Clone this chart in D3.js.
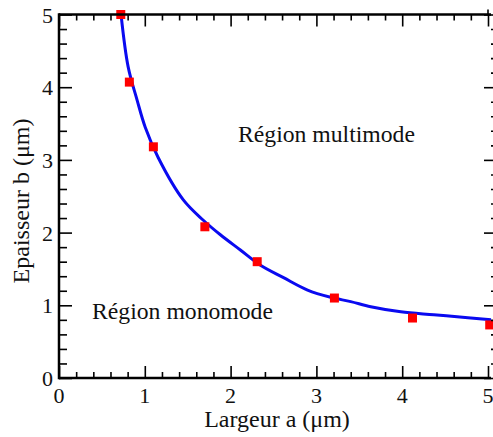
<!DOCTYPE html>
<html><head><meta charset="utf-8">
<script src="https://cdn.jsdelivr.net/npm/d3@7"></script>
<style>body{margin:0;background:#fff}svg{display:block}text{font-family:"Liberation Serif","Times New Roman",serif;fill:#111}</style>
</head><body>
<svg id="c" width="493" height="437"></svg>
<script>
const pointsX = [0.72, 0.82, 1.1, 1.7, 2.31, 3.21, 4.12, 5.02];
const pointsY = [5.0, 4.07, 3.18, 2.08, 1.6, 1.1, 0.825, 0.73];
const curveX = [0.724, 0.806, 0.911, 1.005, 1.157, 1.449, 1.682, 1.881, 2.114, 2.348, 2.617, 2.897, 3.166, 3.40, 3.633, 3.984, 4.369, 4.766, 5.035];
const curveY = [4.99, 4.28, 3.82, 3.45, 3.03, 2.45, 2.17, 1.97, 1.76, 1.55, 1.38, 1.21, 1.11, 1.05, 0.98, 0.91, 0.87, 0.83, 0.80];
const xTicks = [0, 1, 2, 3, 4, 5];
const yTicks = [0, 1, 2, 3, 4, 5];
const xLabel = "Largeur a (μm)";
const yLabel = "Epaisseur b (μm)";
const regionTexts = [{t:"Région multimode", x:2.086, y:3.25}, {t:"Région monomode", x:0.385, y:0.81}];

(function(){
const svg = d3.select("#c");
const L = 59, R = 488, T = 14.5, B = 378;
const x = d3.scaleLinear().domain([0,5]).range([L,R]);
const y = d3.scaleLinear().domain([0,5]).range([B,T]);
const minorX = d3.range(0, 5.001, 0.2).filter(v => Math.abs(v - Math.round(v)) > 1e-6);
const minorY = minorX;

const line = d3.line().x((d,i)=>x(curveX[i])).y((d,i)=>y(curveY[i])).curve(d3.curveCatmullRom);
svg.append("defs").append("clipPath").attr("id","clip").append("rect").attr("x",0).attr("y",T).attr("width",493).attr("height",B-T);
svg.append("path").datum(curveX).attr("d", line).attr("fill","none").attr("stroke","#0a0af0").attr("stroke-width",3).attr("clip-path","url(#clip)");

svg.selectAll("rect.pt").data(pointsX).join("rect").attr("class","pt")
  .attr("x",(d,i)=>x(d)-4.5).attr("y",(d,i)=>y(pointsY[i])-4.5).attr("width",9).attr("height",9).attr("fill","#f00");

const axBottom = svg.append("g").attr("transform",`translate(0,${B})`)
  .call(d3.axisBottom(x).tickValues(xTicks).tickSize(-12).tickFormat(""));
const axBottomMinor = svg.append("g").attr("transform",`translate(0,${B})`)
  .call(d3.axisBottom(x).tickValues(minorX).tickSize(-6).tickFormat(""));
const axTop = svg.append("g").attr("transform",`translate(0,${T})`)
  .call(d3.axisTop(x).tickValues(xTicks).tickSize(-12).tickFormat(""));
const axTopMinor = svg.append("g").attr("transform",`translate(0,${T})`)
  .call(d3.axisTop(x).tickValues(minorX).tickSize(-6).tickFormat(""));
const axLeft = svg.append("g").attr("transform",`translate(${L},0)`)
  .call(d3.axisLeft(y).tickValues(yTicks).tickSize(-13).tickFormat(""));
const axLeftMinor = svg.append("g").attr("transform",`translate(${L},0)`)
  .call(d3.axisLeft(y).tickValues(minorY).tickSize(-8).tickFormat(""));
const axRight = svg.append("g").attr("transform",`translate(${R+5},0)`)
  .call(d3.axisRight(y).tickValues(yTicks).tickSize(-9).tickFormat(""));
const axRightMinor = svg.append("g").attr("transform",`translate(${R+5},0)`)
  .call(d3.axisRight(y).tickValues(minorY).tickSize(-2).tickFormat(""));

[axBottom, axBottomMinor, axTop, axTopMinor, axLeft, axLeftMinor, axRight, axRightMinor].forEach(a => a.select(".domain").remove());
svg.selectAll(".tick line").attr("stroke","#000").attr("stroke-width",1.6);
svg.append("line").attr("x1",L).attr("x2",R+3).attr("y1",B).attr("y2",B).attr("stroke","#000").attr("stroke-width",2.5);
svg.append("line").attr("x1",L).attr("x2",R+3).attr("y1",T).attr("y2",T).attr("stroke","#000").attr("stroke-width",2.5);
svg.append("line").attr("x1",L).attr("x2",L).attr("y1",T-1.2).attr("y2",B+1.2).attr("stroke","#000").attr("stroke-width",2.5);
svg.append("line").attr("x1",x(5)).attr("x2",x(5)).attr("y1",T-5).attr("y2",T).attr("stroke","#000").attr("stroke-width",1.6);

svg.selectAll("text.xt").data(xTicks).join("text").attr("class","xt")
  .attr("x",d=>x(d)).attr("y",B+25).attr("text-anchor","middle").attr("font-size",22).text(d=>d);
svg.selectAll("text.yt").data(yTicks).join("text").attr("class","yt")
  .attr("x",L-6).attr("y",d=>y(d)+8).attr("text-anchor","end").attr("font-size",22).text(d=>d);

svg.append("text").attr("x",277).attr("y",427).attr("text-anchor","middle").attr("font-size",24).text(xLabel);
svg.append("text").attr("transform","translate(29,201) rotate(-90)").attr("text-anchor","middle").attr("font-size",24).text(yLabel);

svg.selectAll("text.reg").data(regionTexts).join("text").attr("class","reg")
  .attr("x",d=>x(d.x)).attr("y",d=>y(d.y)).attr("font-size",23.7).text(d=>d.t);
})();
</script>
</body></html>
